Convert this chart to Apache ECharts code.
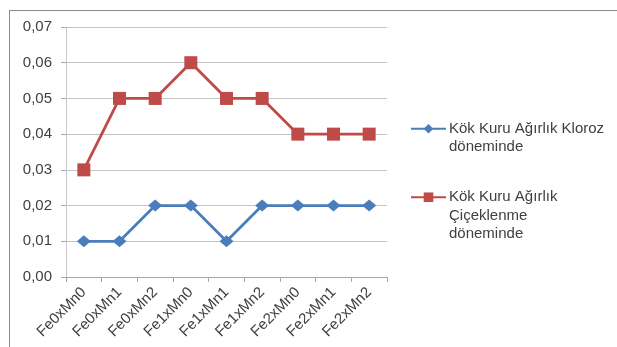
<!DOCTYPE html>
<html>
<head>
<meta charset="utf-8">
<script src="https://cdn.jsdelivr.net/npm/echarts@6/dist/echarts.min.js"></script>
<style>
  html, body { margin: 0; padding: 0; background: #ffffff; }
  #wrap { position: relative; width: 617px; height: 347px; overflow: hidden; }
  #chart { position: absolute; left: 0; top: 0; width: 617px; height: 347px; }
  #frame { position: absolute; left: 9px; top: 10px; width: 700px; height: 400px;
           border: 1px solid #8a8a8a; box-sizing: border-box; pointer-events: none; }
</style>
</head>
<body>
<div id="wrap">
  <div id="chart"></div>
  <div id="frame"></div>
</div>
<script>
// Treatment combinations (Fe x Mn levels)
const categories = ['Fe0xMn0', 'Fe0xMn1', 'Fe0xMn2', 'Fe1xMn0', 'Fe1xMn1', 'Fe1xMn2', 'Fe2xMn0', 'Fe2xMn1', 'Fe2xMn2'];

// Root dry weight, chlorosis period
const klorozName = 'Kök Kuru Ağırlık Kloroz döneminde';
const klorozValues = [0.01, 0.01, 0.02, 0.02, 0.01, 0.02, 0.02, 0.02, 0.02];

// Root dry weight, flowering period
const ciceklenmeName = 'Kök Kuru Ağırlık Çiçeklenme döneminde';
const ciceklenmeValues = [0.03, 0.05, 0.05, 0.06, 0.05, 0.05, 0.04, 0.04, 0.04];

// Legend text, broken over lines
const legendText = {};
legendText[klorozName] = 'Kök Kuru Ağırlık Kloroz\ndöneminde';
legendText[ciceklenmeName] = 'Kök Kuru Ağırlık\nÇiçeklenme\ndöneminde';

const FONT = '"Liberation Sans", Arial, sans-serif';
const TEXT = '#404040';
const BLUE = '#4a7ebb';
const RED = '#be4b48';

const chart = echarts.init(document.getElementById('chart'), null, { renderer: 'canvas' });

// Pad the label with blank lines above so the icon sits beside the first line
function legendLabel(name) {
  const lines = legendText[name].split('\n');
  return '\n'.repeat(lines.length - 1) + lines.join('\n');
}

const legendCommon = {
  orient: 'vertical',
  left: 410,
  padding: 0,
  itemWidth: 35,
  itemHeight: 12,
  itemGap: 0,
  selectedMode: false,
  formatter: legendLabel,
  textStyle: { fontFamily: FONT, fontSize: 15, color: TEXT, lineHeight: 18.5, padding: [0, 0, 0, -2] }
};

chart.setOption({
  animation: false,
  backgroundColor: '#ffffff',
  grid: { left: 66, right: 230, top: 27, bottom: 70, containLabel: false },
  legend: [
    Object.assign({}, legendCommon, { top: 101, data: [klorozName] }),
    Object.assign({}, legendCommon, { top: 151, data: [ciceklenmeName] })
  ],
  xAxis: {
    type: 'category',
    data: categories,
    boundaryGap: true,
    axisLine: { show: true, lineStyle: { color: '#a6a6a6', width: 1 } },
    axisTick: { show: true, alignWithLabel: false, length: 5, lineStyle: { color: '#a6a6a6' } },
    axisLabel: {
      interval: 0,
      rotate: 45,
      margin: 13,
      fontFamily: FONT,
      fontSize: 15,
      color: TEXT
    },
    splitLine: { show: false }
  },
  yAxis: {
    type: 'value',
    min: 0,
    max: 0.07,
    interval: 0.01,
    axisLine: { show: true, lineStyle: { color: '#c8c8c8', width: 1 } },
    axisTick: { show: true, length: 5, lineStyle: { color: '#a6a6a6' } },
    axisLabel: {
      margin: 14,
      fontFamily: FONT,
      fontSize: 15,
      color: TEXT,
      formatter: function (v) { return v.toFixed(2).replace('.', ','); }
    },
    splitLine: { show: true, lineStyle: { color: '#c4c4c4', width: 1.2 } }
  },
  series: [
    {
      name: klorozName,
      type: 'line',
      data: klorozValues,
      symbol: 'diamond',
      symbolSize: [14, 12],
      showAllSymbol: true,
      itemStyle: { color: BLUE },
      lineStyle: { color: BLUE, width: 2.8 },
      z: 3
    },
    {
      name: ciceklenmeName,
      type: 'line',
      data: ciceklenmeValues,
      symbol: 'rect',
      symbolSize: 13,
      showAllSymbol: true,
      itemStyle: { color: RED },
      lineStyle: { color: RED, width: 2.8 },
      z: 2
    }
  ]
});
</script>
</body>
</html>
